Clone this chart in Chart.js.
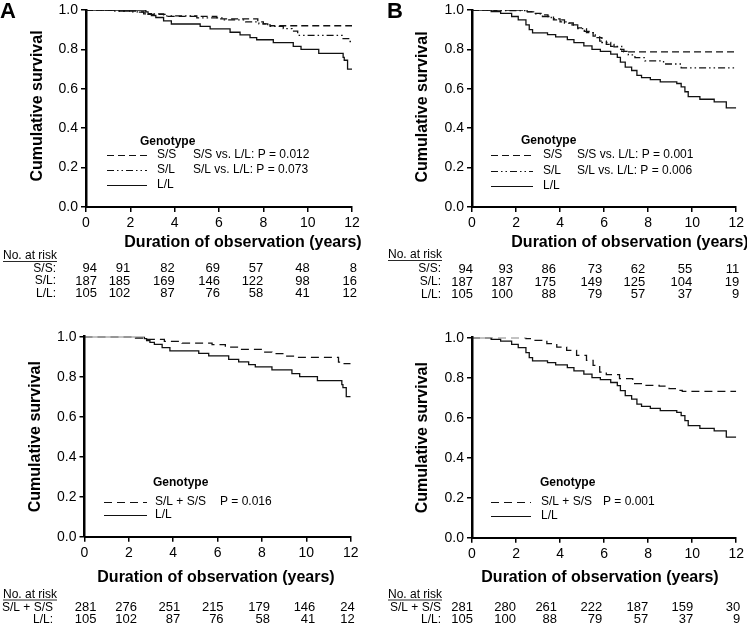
<!DOCTYPE html>
<html><head><meta charset="utf-8">
<script src="https://cdn.jsdelivr.net/npm/chart.js@4.4.1/dist/chart.umd.min.js"></script>
<style>
html,body{margin:0;padding:0;background:#fff;}
#wrap{position:relative;width:747px;height:624px;overflow:hidden;background:#fff;}
#wrap canvas{position:absolute;left:0;top:0;}
</style></head><body>
<div id="wrap">
<canvas id="c1" width="747" height="624"></canvas>
<canvas id="c2" width="747" height="624"></canvas>
<canvas id="c3" width="747" height="624"></canvas>
<canvas id="c4" width="747" height="624"></canvas>
</div>
<script>
// ---------- DATA ----------
const yearTicks = [0, 2, 4, 6, 8, 10, 12];
const survTicks = [0, 0.2, 0.4, 0.6, 0.8, 1.0];

// Panel A (top): [years, cumulative survival] at each step
const A_SS = [[0,1],[1.5,0.995],[2.3,0.989],[2.8,0.978],[3.7,0.968],[5.9,0.955],[7.75,0.94],[8.0,0.93],[8.3,0.92],[12,0.92]];
const A_SL = [[0,1],[1.3,0.995],[2.0,0.99],[2.6,0.98],[3.5,0.97],[5.0,0.96],[6.2,0.95],[7.2,0.94],[7.8,0.93],[8.2,0.917],[8.9,0.905],[9.3,0.893],[9.55,0.871],[11.55,0.855],[11.85,0.84],[12,0.84]];
const A_LL = [[0,1],[2.7,0.99],[2.8,0.981],[2.95,0.972],[3.15,0.962],[3.5,0.945],[3.85,0.929],[5.15,0.917],[5.6,0.904],[6.5,0.887],[6.95,0.874],[7.4,0.86],[7.7,0.849],[8.45,0.834],[9.35,0.815],[9.7,0.80],[10.5,0.78],[11.6,0.76],[11.65,0.745],[11.8,0.70],[12,0.70]];

// Panel B (top)
const B_SS = [[0,1],[2.5,0.992],[2.8,0.983],[3.2,0.975],[3.45,0.967],[3.7,0.95],[4.2,0.934],[4.6,0.92],[4.8,0.909],[5.1,0.892],[5.5,0.867],[5.8,0.842],[6.1,0.826],[6.45,0.813],[6.75,0.80],[6.9,0.787],[12,0.787]];
const B_SL = [[0,1],[1.0,0.997],[2.4,0.99],[2.8,0.98],[3.2,0.967],[3.6,0.955],[4.0,0.94],[4.4,0.925],[4.8,0.905],[5.2,0.885],[5.6,0.86],[5.9,0.835],[6.3,0.815],[6.8,0.79],[7.1,0.772],[7.4,0.758],[7.85,0.742],[8.7,0.726],[9.5,0.706],[12,0.706]];
const B_LL = [[0,1],[0.87,0.992],[1.3,0.983],[1.8,0.967],[2.1,0.95],[2.45,0.925],[2.6,0.9],[2.75,0.884],[3.43,0.875],[3.8,0.864],[4.33,0.85],[4.63,0.834],[5.08,0.818],[5.45,0.80],[5.83,0.79],[6.3,0.776],[6.6,0.76],[6.74,0.735],[6.96,0.71],[7.25,0.693],[7.49,0.668],[7.7,0.657],[8.1,0.647],[8.55,0.635],[9.3,0.627],[9.5,0.61],[9.67,0.585],[9.82,0.56],[10.35,0.547],[11.0,0.534],[11.55,0.503],[12,0.503]];

// Panel A (bottom): S/L + S/S combined
const A2_SLSS = [[0,1],[2.3,0.993],[2.75,0.987],[3.6,0.977],[4.4,0.968],[5.75,0.96],[6.35,0.948],[6.95,0.937],[8.0,0.923],[8.45,0.915],[9.05,0.903],[9.65,0.897],[11.45,0.873],[11.6,0.865],[12,0.865]];
// Panel B (bottom): S/L + S/S combined
const B2_SLSS = [[0,1],[2.45,0.995],[2.8,0.987],[3.4,0.97],[3.85,0.953],[4.3,0.937],[4.75,0.912],[5.2,0.887],[5.5,0.862],[5.8,0.828],[6.1,0.815],[6.7,0.795],[7.3,0.77],[7.75,0.762],[8.5,0.758],[8.95,0.745],[9.4,0.737],[9.55,0.732],[12,0.732]];

// Numbers at risk
const riskA_SS = [94, 91, 82, 69, 57, 48, 8];
const riskA_SL = [187, 185, 169, 146, 122, 98, 16];
const riskA_LL = [105, 102, 87, 76, 58, 41, 12];
const riskB_SS = [94, 93, 86, 73, 62, 55, 11];
const riskB_SL = [187, 187, 175, 149, 125, 104, 19];
const riskB_LL = [105, 100, 88, 79, 57, 37, 9];
const riskA2_SLSS = [281, 276, 251, 215, 179, 146, 24];
const riskA2_LL = [105, 102, 87, 76, 58, 41, 12];
const riskB2_SLSS = [281, 280, 261, 222, 187, 159, 30];
const riskB2_LL = [105, 100, 88, 79, 57, 37, 9];

// Texts
const pTextsA = ['S/S vs. L/L: P = 0.012', 'S/L vs. L/L: P = 0.073'];
const pTextsB = ['S/S vs. L/L: P = 0.001', 'S/L vs. L/L: P = 0.006'];
const pTextA2 = ['P = 0.016'];
const pTextB2 = ['P = 0.001'];
const yTitle = 'Cumulative survival';
const xTitle = 'Duration of observation (years)';

// ---------- STYLE / LAYOUT ----------
const FONT = '"Liberation Sans", Arial, Helvetica, sans-serif';
const INK = '#111';
const DASH = [7, 4];
const DASHDOT = [7, 3, 1.5, 3, 1.5, 3];
const DASH2 = [8, 5];
const Y_AXIS_W = 34, X_AXIS_H = 26;

const panels = [
  { id: 'c1', area: [86, 352, 6, 207], letter: ['A', 0, 18],
    yT: [38, 106], xT: [243, 243],
    series: [['S/S', A_SS, DASH], ['S/L', A_SL, DASHDOT], ['L/L', A_LL, []]],
    legend: { gx: 140, gy: 142, rows: [155, 170, 185], lx0: 107, lx1: 147, labX: 157, pX: 193, p: pTextsA },
    risk: { hx: 3, hy: 256, labR: 56, ys: [268.5, 281, 293.5], rows: [['S/S:', riskA_SS], ['S/L:', riskA_SL], ['L/L:', riskA_LL]], offs: [11, 0, 0, 1, 0, 2, 5] } },
  { id: 'c2', area: [472, 738, 7, 207], letter: ['B', 387, 18],
    yT: [423, 107], xT: [630, 243],
    series: [['S/S', B_SS, DASH], ['S/L', B_SL, DASHDOT], ['L/L', B_LL, []]],
    legend: { gx: 521, gy: 141, rows: [155, 171, 186], lx0: 491, lx1: 533, labX: 543, pX: 577, p: pTextsB },
    risk: { hx: 388, hy: 255, labR: 441, ys: [269, 282, 294.5], rows: [['S/S:', riskB_SS], ['S/L:', riskB_SL], ['L/L:', riskB_LL]], offs: [1, -3, -4, -2, -3, 0, 3] } },
  { id: 'c3', area: [84.5, 350.7, 336.7, 536.7], letter: null,
    yT: [36, 436.7], xT: [216, 578],
    series: [['S/L + S/S', A2_SLSS, DASH2], ['L/L', A_LL, []]],
    legend: { gx: 153, gy: 483, rows: [502, 515], lx0: 104, lx1: 147, labX: 155, pX: 220, p: pTextA2 },
    risk: { hx: 3, hy: 594.5, labR: 53, ys: [607.5, 619.5], rows: [['S/L + S/S', riskA2_SLSS], ['L/L:', riskA2_LL]], offs: [12, 8, 7, 6, 8, 9, 4] } },
  { id: 'c4', area: [472, 738.7, 337.7, 537.7], letter: null,
    yT: [423, 437.7], xT: [600, 578],
    series: [['S/L + S/S', B2_SLSS, DASH2], ['L/L', B_LL, []]],
    legend: { gx: 540, gy: 483, rows: [502, 516], lx0: 491, lx1: 531, labX: 541, pX: 603, p: pTextB2 },
    risk: { hx: 388, hy: 594.5, labR: 441, ys: [607.5, 619.5], rows: [['S/L + S/S', riskB2_SLSS], ['L/L:', riskB2_LL]], offs: [1, 0, -3, -2, 0, 1, 4] } }
];

function makeTextPlugin(cfg) {
  return {
    id: 'panelText_' + cfg.id,
    afterDraw(chart) {
      const ctx = chart.ctx;
      const xs = chart.scales.x;
      ctx.save();
      ctx.fillStyle = '#000';
      ctx.strokeStyle = INK;
      // panel letter
      if (cfg.letter) {
        ctx.font = 'bold 22px ' + FONT;
        ctx.textAlign = 'left'; ctx.textBaseline = 'alphabetic';
        ctx.fillText(cfg.letter[0], cfg.letter[1], cfg.letter[2]);
      }
      // y title
      ctx.font = 'bold 16px ' + FONT;
      ctx.textAlign = 'center'; ctx.textBaseline = 'middle';
      ctx.save();
      ctx.translate(cfg.yT[0], cfg.yT[1]);
      ctx.rotate(-Math.PI / 2);
      ctx.fillText(yTitle, 0, 0);
      ctx.restore();
      // x title
      ctx.fillText(xTitle, cfg.xT[0], cfg.xT[1]);
      // legend
      const L = cfg.legend;
      ctx.font = 'bold 12px ' + FONT;
      ctx.textAlign = 'left';
      ctx.fillText('Genotype', L.gx, L.gy);
      ctx.font = '12px ' + FONT;
      cfg.series.forEach((s, i) => {
        const yy = L.rows[i];
        ctx.beginPath();
        ctx.setLineDash(s[2]);
        ctx.lineWidth = 1.2;
        ctx.moveTo(L.lx0, yy + 0.5); ctx.lineTo(L.lx1, yy + 0.5);
        ctx.stroke();
        ctx.setLineDash([]);
        ctx.fillText(s[0], L.labX, yy);
        if (L.p[i]) ctx.fillText(L.p[i], L.pX, yy);
      });
      // risk table
      const R = cfg.risk;
      ctx.font = '12px ' + FONT;
      ctx.textAlign = 'left';
      ctx.fillText('No. at risk', R.hx, R.hy);
      const w = ctx.measureText('No. at risk').width;
      ctx.beginPath(); ctx.lineWidth = 0.9;
      ctx.moveTo(R.hx, R.hy + 5.5); ctx.lineTo(R.hx + w, R.hy + 5.5); ctx.stroke();
      R.rows.forEach((row, r) => {
        const yy = R.ys[r];
        ctx.font = '12px ' + FONT;
        ctx.textAlign = 'right';
        ctx.fillText(row[0], R.labR, yy);
        ctx.font = '13px ' + FONT;
        row[1].forEach((v, i) => {
          ctx.fillText(String(v), xs.getPixelForValue(yearTicks[i]) + R.offs[i], yy);
        });
      });
      ctx.restore();
    }
  };
}

panels.forEach(cfg => {
  const [l, r, t, b] = cfg.area;
  new Chart(document.getElementById(cfg.id), {
    type: 'line',
    data: {
      datasets: cfg.series.map(s => ({
        label: s[0], data: s[1], stepped: true,
        borderColor: INK, borderWidth: 1.3, borderDash: s[2],
        pointRadius: 0, fill: false, tension: 0
      }))
    },
    options: {
      responsive: false, animation: false, events: [],
      layout: { padding: { left: l - Y_AXIS_W, right: 747 - r, top: t, bottom: 624 - b - X_AXIS_H } },
      plugins: { legend: { display: false }, tooltip: { enabled: false } },
      scales: {
        x: {
          type: 'linear', min: 0, max: 12,
          afterFit: sc => { sc.height = X_AXIS_H; },
          afterBuildTicks: sc => { sc.ticks = yearTicks.map(v => ({ value: v })); },
          ticks: { color: '#000', font: { family: FONT, size: 14 }, padding: 3, maxRotation: 0, autoSkip: false },
          grid: { display: true, drawOnChartArea: false, drawTicks: true, tickLength: 5, color: '#000', lineWidth: 1.5 },
          border: { display: true, color: '#000', width: 2 }
        },
        y: {
          type: 'linear', min: 0, max: 1,
          afterFit: sc => { sc.width = Y_AXIS_W; },
          afterBuildTicks: sc => { sc.ticks = survTicks.map(v => ({ value: v })); },
          ticks: { color: '#000', font: { family: FONT, size: 14, lineHeight: 1 }, padding: 3, callback: v => Number(v).toFixed(1) },
          grid: { display: true, drawOnChartArea: false, drawTicks: true, tickLength: 5, color: '#000', lineWidth: 1.5 },
          border: { display: true, color: '#000', width: 2.5 }
        }
      }
    },
    plugins: [makeTextPlugin(cfg)]
  });
});
</script>
</body></html>
